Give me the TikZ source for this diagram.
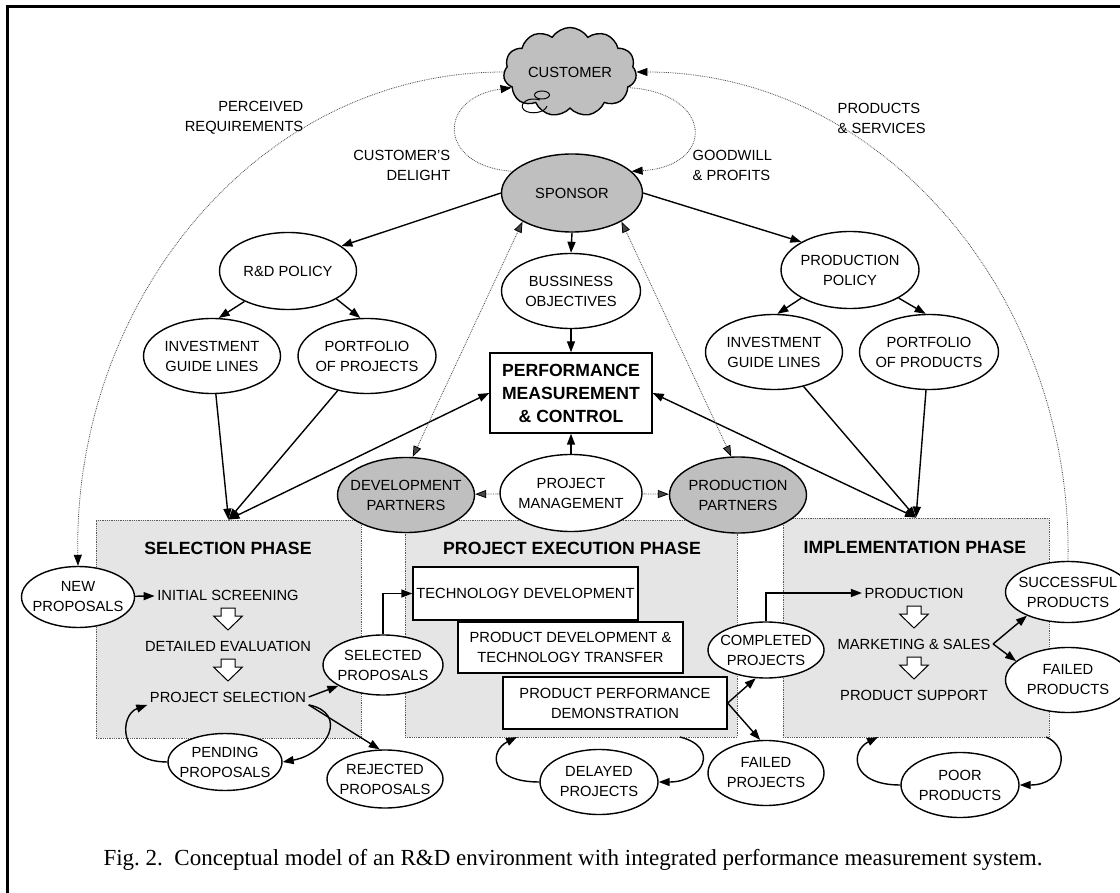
\documentclass[tikz,border=0pt]{standalone}
\usepackage{fontspec}
\setmainfont{Liberation Sans}
\newfontfamily\capfont{Liberation Serif}
\usetikzlibrary{positioning,arrows.meta,calc,shapes.geometric,shapes.symbols}
\tikzset{>={Triangle[length=11pt,width=8pt,color=black]}}
\definecolor{phasegray}{gray}{0.9}
\definecolor{actorgray}{gray}{0.75}

\begin{document}
\begin{tikzpicture}[x=1pt, y=-1pt, line width=1.4pt, node distance=51pt,
    font=\fontsize{14.7}{20}\selectfont,
    oval/.style={ellipse, draw, fill=white, inner xsep=-12pt, inner ysep=0pt, align=center},
    actor/.style={oval, fill=actorgray},
    phase/.style={rectangle, draw=gray!70!black, densely dotted, line width=0.8pt, fill=phasegray},
    stage/.style={rectangle, draw, fill=white, inner sep=0pt, align=center},
    stagetxt/.style={inner sep=2pt},
    title/.style={font=\fontsize{17.7}{22}\selectfont\bfseries},
    lbl/.style={inner sep=0pt},
    dots/.style={densely dotted, gray!55!black, line width=0.8pt},
    hollow/.style={line width=1pt, fill=white}]
    \useasboundingbox (0,0) rectangle (1120,893);
    \draw[line width=3pt] (7,900) -- (7,7) -- (1130,7);

    \node[phase, minimum width=265pt, minimum height=218pt] (selbox) at (228.5,629) {};
    \node[phase, minimum width=332pt, minimum height=217pt] (exbox) at (571,628.5) {};
    \node[phase, minimum width=266pt, minimum height=219pt] (imbox) at (916,627.5) {};
    \node[title] (tsel) at (228,548) {SELECTION PHASE};
    \node[title] (texe) at (572,548) {PROJECT EXECUTION PHASE};
    \node[title] (timp) at (915,547) {IMPLEMENTATION PHASE};

    \node[cloud, cloud puffs=11, cloud puff arc=115, aspect=1.5, draw, fill=actorgray, inner xsep=-10pt,
      inner ysep=0pt, minimum width=133pt, minimum height=89pt] (cust) at (570,72) {CUSTOMER};
    \draw[line width=1pt] (542,95) ellipse (7.5pt and 4pt);
    \draw[line width=1pt] (540,100) .. controls (528,96) and (518,104) .. (524,110)
      .. controls (530,115) and (545,113) .. (547,106);

    \node[actor, minimum width=141pt, minimum height=78pt] (spon) at (572,193) {SPONSOR};
    \node[oval, minimum width=137pt, minimum height=77pt] (rdp) at (288,271) {R\&D POLICY};
    \node[oval, minimum width=139pt, minimum height=75pt] (bus) at (571,291) {BUSSINESS\\OBJECTIVES};
    \node[oval, minimum width=138pt, minimum height=77pt] (prp) at (850,270) {PRODUCTION\\POLICY};
    \node[oval, minimum width=137pt, minimum height=75pt] (igl) at (212,356) {INVESTMENT\\GUIDE LINES};
    \node[oval, minimum width=138pt, minimum height=75pt] (pop) at (367,356) {PORTFOLIO\\OF PROJECTS};
    \node[oval, minimum width=137pt, minimum height=75pt] (igr) at (774,352) {INVESTMENT\\GUIDE LINES};
    \node[oval, minimum width=139pt, minimum height=75pt] (por) at (929,352) {PORTFOLIO\\OF PRODUCTS};
    \node[stage, font=\fontsize{17.6}{23}\selectfont\bfseries, minimum width=162pt,
      minimum height=80pt] (pmc) at (571,393) {PERFORMANCE\\MEASUREMENT\\\& CONTROL};
    \node[actor, minimum width=137pt, minimum height=75pt] (dev) at (406,495) {DEVELOPMENT\\PARTNERS};
    \node[oval, minimum width=142pt, minimum height=77pt] (pm) at (571,493) {PROJECT\\MANAGEMENT};
    \node[actor, minimum width=137pt, minimum height=76pt] (prd) at (738,495) {PRODUCTION\\PARTNERS};

    \node[lbl, anchor=east, align=right] (preq) at (304,118) {PERCEIVED\\REQUIREMENTS};
    \node[lbl, anchor=east, align=right] (cdel) at (451,165) {CUSTOMER'S\\DELIGHT};
    \node[lbl, anchor=west, align=left] (gwp) at (692,165) {GOODWILL\\\& PROFITS};
    \node[lbl, anchor=west, align=left] (pser) at (837,118) {PRODUCTS\\\& SERVICES};

    \node[oval, minimum width=113pt, minimum height=61pt] (new) at (78,597) {NEW\\PROPOSALS};
    \node[stagetxt] (scr) at (228,595) {INITIAL SCREENING};
    \node[stagetxt, below of=scr] (eva) {DETAILED EVALUATION};
    \node[stagetxt, below of=eva] (ps) {PROJECT SELECTION};
    \coordinate[below of=scr, node distance=24pt] (h1);
    \coordinate[below of=eva, node distance=24pt] (h2);
    \node[oval, minimum width=120pt, minimum height=60pt] (sel) at (383,665) {SELECTED\\PROPOSALS};
    \node[oval, minimum width=116pt, minimum height=58pt] (rej) at (385,779) {REJECTED\\PROPOSALS};
    \node[oval, minimum width=114pt, minimum height=57pt] (pen) at (225,762) {PENDING\\PROPOSALS};

    \node[stage, minimum width=225pt, minimum height=53pt] (tech) at (525.5,593.5) {TECHNOLOGY DEVELOPMENT};
    \node[stage, minimum width=225pt, minimum height=51pt] (pdt) at (570.5,647.5) {PRODUCT DEVELOPMENT \&\\TECHNOLOGY TRANSFER};
    \node[stage, minimum width=224pt, minimum height=52pt] (ppd) at (615,703) {PRODUCT PERFORMANCE\\DEMONSTRATION};
    \node[oval, minimum width=118pt, minimum height=65pt] (dly) at (599,782) {DELAYED\\PROJECTS};
    \node[oval, minimum width=116pt, minimum height=56pt] (com) at (766,650) {COMPLETED\\PROJECTS};
    \node[oval, minimum width=116pt, minimum height=65pt] (fpj) at (766,773) {FAILED\\PROJECTS};

    \node[stagetxt] (prod) at (914,593) {PRODUCTION};
    \node[stagetxt, below of=prod] (ms) {MARKETING \& SALES};
    \node[stagetxt, below of=ms] (sup) {PRODUCT SUPPORT};
    \coordinate[below of=prod, node distance=24pt] (i1);
    \coordinate[below of=ms, node distance=24pt] (i2);
    \node[oval, minimum width=125pt, minimum height=61pt] (suc) at (1068,592) {SUCCESSFUL\\PRODUCTS};
    \node[oval, minimum width=125pt, minimum height=65pt] (fpr) at (1068,680) {FAILED\\PRODUCTS};
    \node[oval, minimum width=118pt, minimum height=65pt] (poor) at (960,785) {POOR\\PRODUCTS};

    \node[font=\capfont\fontsize{23}{28}\selectfont] (cap) at (573,860)
      {Fig.~2.\ \ Conceptual model of an R\&D environment with integrated performance measurement system.};

    \foreach \h in {h1,h2,i1,i2}
      \draw[hollow] (\h) ++(-7,-11) -- ++(14,0) -- ++(0,8) -- ++(7.5,0) -- ++(-14.5,14)
        -- ++(-14.5,-14) -- ++(7.5,0) -- cycle;

    \coordinate (exr) at (680,737);
    \coordinate (exl) at (517,737);
    \coordinate (imr) at (1046,737);
    \coordinate (iml) at (878,737);

    \path[->] (spon.west) edge (rdp.25)
              (spon.east) edge (prp.150)
              (spon.south) edge (bus.north)
              (bus) edge (pmc)
              (pm) edge (pmc)
              (rdp.215) edge (igl.80)
              (rdp.-30) edge (pop.100)
              (prp.210) edge (igr.85)
              (prp.-30) edge (por.95)
              (igl) edge (selbox.north)
              (pop) edge (selbox.north)
              (igr) edge (imbox.north)
              (por) edge (imbox.north)
              (new) edge (scr)
              (ps.east) edge (sel.205)
              (ps.south east) edge (rej.100)
              (ppd.east) edge (com.250)
              (ppd.east) edge (fpj.100)
              (ms.east) edge (suc.210)
              (ms.east) edge (fpr.160);
    \path[<->] (pmc.west) edge (selbox.north)
               (pmc.east) edge (imbox.north);
    \draw[->] (sel.north) |- (tech.west);
    \draw[->] (com.north) |- (prod.west);

    \draw[->] (ps.south east) .. controls +(40,8) and +(45,-8) .. (pen.east);
    \draw[->] (pen.west) .. controls +(-50,0) and +(-28,10) .. (ps.south west);
    \draw[->] (exr) .. controls +(40,10) and +(45,0) .. (dly.east);
    \draw[->] (dly.west) .. controls +(-50,0) and +(-28,14) .. (exl);
    \draw[->] (imr) .. controls +(25,10) and +(45,0) .. (poor.east);
    \draw[->] (poor.west) .. controls +(-50,0) and +(-28,14) .. (iml);

    \path[->, dots] (pm) edge (dev)
                    (pm) edge (prd);
    \path[<->, dots] (spon.210) edge (dev.80)
                     (spon.-30) edge (prd.100);
    \draw[->, dots] (spon.160) .. controls +(-75,-5) and +(-75,10) .. (cust.195);
    \draw[->, dots] (cust.-15) .. controls +(85,5) and +(85,-5) .. (spon.20);
    \draw[->, dots] (cust.west) .. controls +(-245,0) and +(-5,-265) .. (new.north);
    \draw[->, dots] (suc.north) .. controls +(5,-265) and +(245,0) .. (cust.east);
\end{tikzpicture}
\end{document}
